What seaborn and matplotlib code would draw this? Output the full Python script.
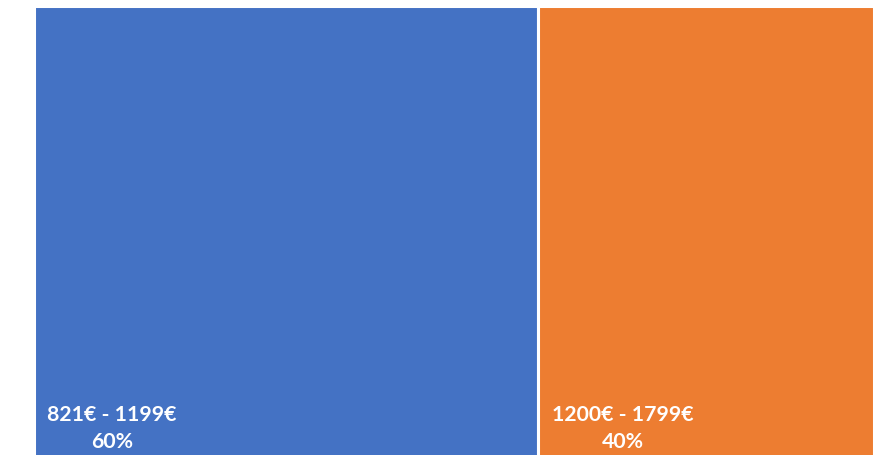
import matplotlib
matplotlib.use("Agg")
import matplotlib.pyplot as plt
import seaborn as sns

categories = ["821€ - 1199€", "1200€ - 1799€"]
shares = [60, 40]
share_labels = ["60%", "40%"]
colors = ["#4472C4", "#ED7D31"]

sns.set_theme(style="white")
plt.rcParams["font.family"] = ["Lato", "DejaVu Sans"]

W, H = 891, 455
fig = plt.figure(figsize=(W / 100, H / 100), dpi=100)
left_px, right_px, top_px = 33.5, 874.0, 6.5
ax = fig.add_axes([left_px / W, 0.0, (right_px - left_px) / W, 1 - top_px / H])

lefts = [sum(shares[:i]) for i in range(len(shares))]
ax.bar(lefts, [1.3] * len(shares), width=shares, bottom=-0.3, align="edge",
       color=colors, edgecolor="white", linewidth=2.2)
ax.set_xlim(0, sum(shares))
ax.set_ylim(0, 1)
ax.axis("off")

for x0, cat, lab in zip(lefts, categories, share_labels):
    ax.annotate(f"{cat}\n{lab}", xy=(x0, 0), xycoords=("data", "axes fraction"),
                xytext=(10, 2.5), textcoords="offset points",
                ha="left", va="bottom", multialignment="center",
                color="white", fontsize=15.3, fontweight="bold", linespacing=1.38)

fig.savefig("out.png", dpi=100)
